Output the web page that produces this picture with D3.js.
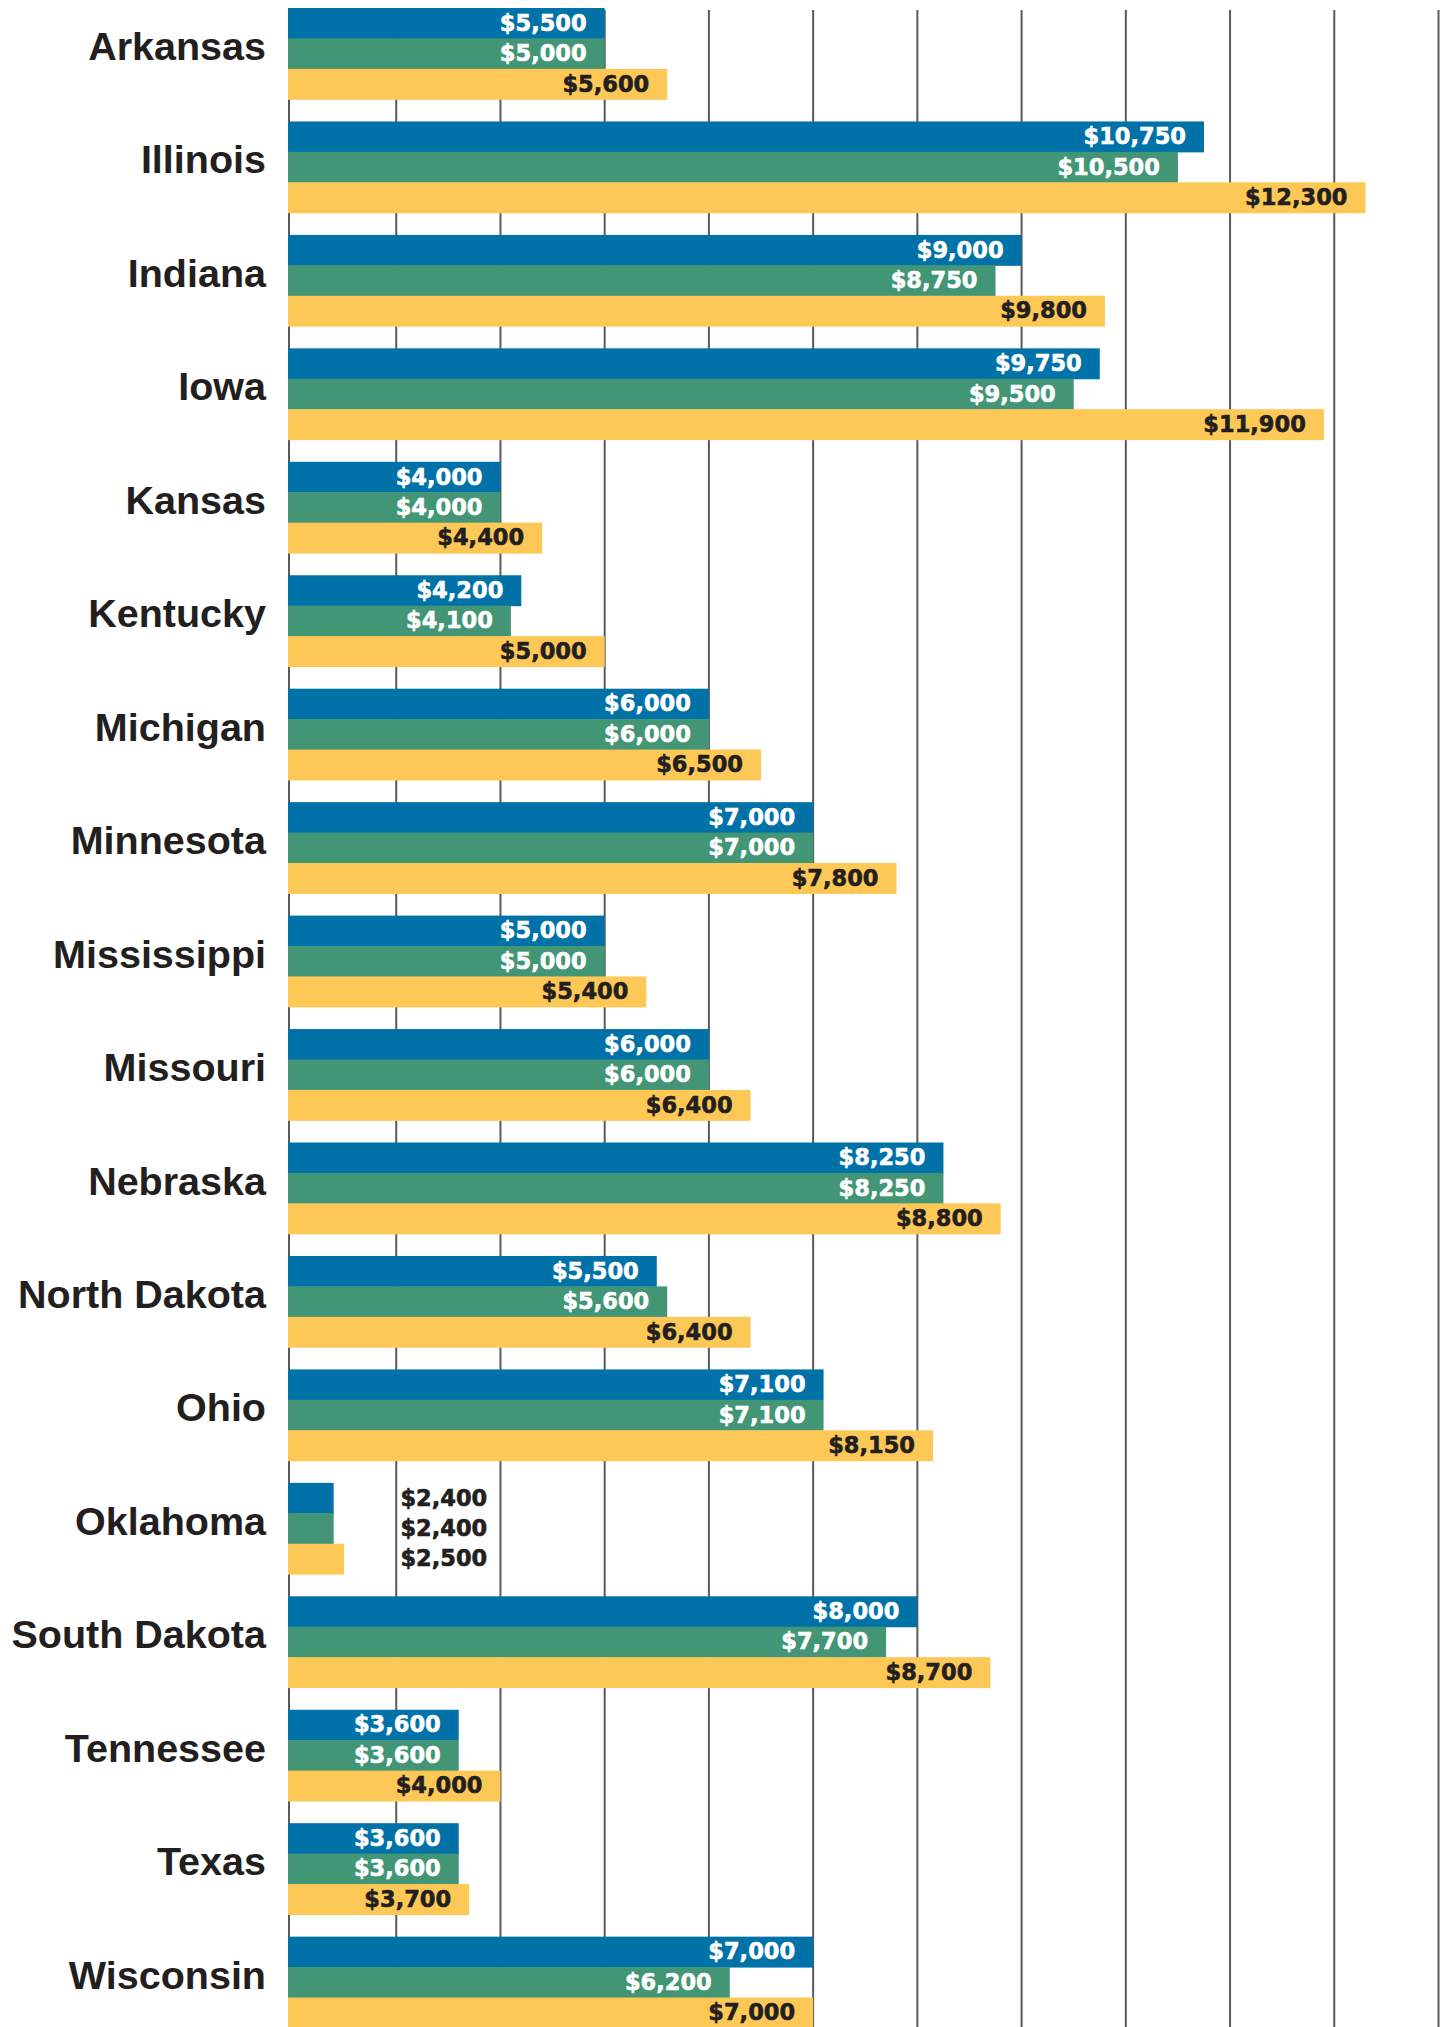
<!DOCTYPE html>
<html>
<head>
<meta charset="utf-8">
<script src="https://cdn.jsdelivr.net/npm/d3@7"></script>
<style>
  html, body { margin: 0; padding: 0; background: #fff; }
  svg { display: block; }
  .state { font-family: 'Liberation Sans', Arial, sans-serif; font-weight: bold; font-size: 39.5px; fill: #231f20; }
  .value { font-family: 'DejaVu Sans', sans-serif; font-weight: bold; font-size: 22.5px; stroke-width: 0.6px; }
</style>
</head>
<body>
<svg id="chart"></svg>
<script>
const states = ['Arkansas', 'Illinois', 'Indiana', 'Iowa', 'Kansas', 'Kentucky', 'Michigan',
  'Minnesota', 'Mississippi', 'Missouri', 'Nebraska', 'North Dakota', 'Ohio', 'Oklahoma',
  'South Dakota', 'Tennessee', 'Texas', 'Wisconsin'];

const blueValues   = [5500, 10750, 9000, 9750, 4000, 4200, 6000, 7000, 5000, 6000, 8250, 5500, 7100, 2400, 8000, 3600, 3600, 7000];
const greenValues  = [5000, 10500, 8750, 9500, 4000, 4100, 6000, 7000, 5000, 6000, 8250, 5600, 7100, 2400, 7700, 3600, 3600, 6200];
const yellowValues = [5600, 12300, 9800, 11900, 4400, 5000, 6500, 7800, 5400, 6400, 8800, 6400, 8150, 2500, 8700, 4000, 3700, 7000];

// in the source the Arkansas blue bar stops at $5,000 though it is labelled $5,500
const barOverrides = [{state: 'Arkansas', series: 'blue', value: 5000}];

const xTicks = d3.range(3000, 13001, 1000);

const series = [
  {key: 'blue', values: blueValues, color: '#0072a8', text: '#ffffff'},
  {key: 'green', values: greenValues, color: '#429676', text: '#ffffff'},
  {key: 'yellow', values: yellowValues, color: '#fdc856', text: '#231f20'}
];

const width = 1447;
const height = 2027;
const marginTop = 8;
const step = 113.45;
const groupHeight = 91.3;

const svg = d3.select('#chart')
  .attr('width', width)
  .attr('height', height);

const x = d3.scaleLinear()
  .domain([2000, 13000])
  .range([292, 1438.5]);

// bars and the first rule start a few px before x(2000)
const baseX = x(2000) - 4;

const y = d3.scaleBand()
  .domain(states)
  .range([marginTop, marginTop + (states.length - 1) * step + groupHeight])
  .paddingInner(1 - groupHeight / step)
  .paddingOuter(0);

const ySub = d3.scaleBand()
  .domain(series.map(s => s.key))
  .range([0, y.bandwidth()]);

// vertical rules behind the bars
svg.append('g')
  .selectAll('line')
  .data([null].concat(xTicks))
  .join('line')
  .attr('x1', d => d === null ? baseX + 1 : x(d))
  .attr('x2', d => d === null ? baseX + 1 : x(d))
  .attr('y1', 10)
  .attr('y2', height)
  .attr('stroke', '#5a5a5a')
  .attr('stroke-width', 2);

const rows = [];
states.forEach((state, i) => {
  series.forEach(s => {
    const o = barOverrides.find(b => b.state === state && b.series === s.key);
    rows.push({state, series: s, value: s.values[i], bar: o ? o.value : s.values[i]});
  });
});

const fmt = v => '$' + d3.format(',')(v);

svg.append('g')
  .selectAll('rect')
  .data(rows)
  .join('rect')
  .attr('x', baseX)
  .attr('y', d => y(d.state) + ySub(d.series.key))
  .attr('width', d => x(d.bar) - baseX)
  .attr('height', ySub.bandwidth() + 0.5)
  .attr('fill', d => d.series.color);

svg.append('g')
  .selectAll('text')
  .data(rows)
  .join('text')
  .attr('class', 'value')
  .attr('text-anchor', 'end')
  .attr('x', d => d.bar < 3000 ? x(3000) + 91 : x(d.bar) - 18)
  .attr('y', d => y(d.state) + ySub(d.series.key) + ySub.bandwidth() / 2 + 7.5)
  .attr('fill', d => d.bar < 3000 ? '#231f20' : d.series.text)
  .attr('stroke', d => d.bar < 3000 ? '#231f20' : d.series.text)
  .text(d => fmt(d.value));

svg.append('g')
  .selectAll('text')
  .data(states)
  .join('text')
  .attr('class', 'state')
  .attr('text-anchor', 'end')
  .attr('x', 266)
  .attr('y', d => y(d) + 52)
  .text(d => d);
</script>
</body>
</html>
